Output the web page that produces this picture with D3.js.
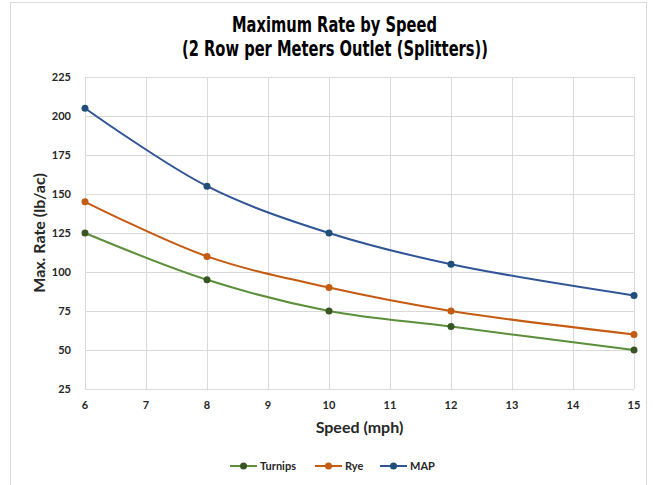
<!DOCTYPE html>
<html>
<head>
<meta charset="utf-8">
<script src="https://cdn.jsdelivr.net/npm/d3@7"></script>
<style>
  body { margin: 0; background: #fff; }
  svg { display: block; }
</style>
</head>
<body>
<svg id="chart" width="653" height="485"></svg>
<script>
// Max rate vs speed, three products
const speeds = [6, 8, 10, 12, 15];
const turnips = [125, 95, 75, 65, 50];
const rye = [145, 110, 90, 75, 60];
const mapRate = [205, 155, 125, 105, 85];
const xTicks = [6, 7, 8, 9, 10, 11, 12, 13, 14, 15];
const yTicks = [25, 50, 75, 100, 125, 150, 175, 200, 225];

const series = [
    { name: "Turnips", values: turnips, line: "#5b8f3a", dot: "#375623" },
    { name: "Rye", values: rye, line: "#C55A11", dot: "#C55A11" },
    { name: "MAP", values: mapRate, line: "#2F5597", dot: "#1f4e79" }
];

const svg = d3.select("#chart");
const plot = { left: 85, right: 634, top: 77, bottom: 389 };
const tickFont = "Lato, 'Open Sans', sans-serif";
const titleFont = "'DejaVu Sans', sans-serif";

// outer frame
svg.append("rect")
    .attr("x", 10.5).attr("y", 2.5)
    .attr("width", 636).attr("height", 490)
    .attr("fill", "none").attr("stroke", "#d9d9d9");

const x = d3.scaleLinear().domain([6, 15]).range([plot.left, plot.right]);
const y = d3.scaleLinear().domain([25, 225]).range([plot.bottom, plot.top]);

// gridlines
svg.append("g").selectAll("line")
    .data(yTicks).enter().append("line")
    .attr("x1", plot.left).attr("x2", plot.right)
    .attr("y1", d => Math.round(y(d)) + 0.5).attr("y2", d => Math.round(y(d)) + 0.5)
    .attr("stroke", "#d9d9d9");
svg.append("g").selectAll("line")
    .data(xTicks).enter().append("line")
    .attr("x1", d => Math.round(x(d)) + 0.5).attr("x2", d => Math.round(x(d)) + 0.5)
    .attr("y1", plot.top).attr("y2", plot.bottom)
    .attr("stroke", "#d9d9d9");

// tick labels
svg.append("g").selectAll("text")
    .data(yTicks).enter().append("text")
    .attr("x", plot.left - 14).attr("y", d => y(d) + 4)
    .attr("text-anchor", "end")
    .attr("font-family", tickFont).attr("font-weight", "bold").attr("font-size", 11)
    .attr("fill", "#262626")
    .text(d => d);
svg.append("g").selectAll("text")
    .data(xTicks).enter().append("text")
    .attr("x", d => x(d)).attr("y", plot.bottom + 20)
    .attr("text-anchor", "middle")
    .attr("font-family", tickFont).attr("font-weight", "bold").attr("font-size", 11)
    .attr("fill", "#262626")
    .text(d => d);

// axis titles
svg.append("text")
    .attr("x", (plot.left + plot.right) / 2).attr("y", 433)
    .attr("text-anchor", "middle")
    .attr("font-family", tickFont).attr("font-weight", "bold").attr("font-size", 16)
    .attr("fill", "#262626")
    .text("Speed (mph)");
svg.append("text")
    .attr("transform", `translate(45,${(plot.top + plot.bottom) / 2}) rotate(-90)`)
    .attr("text-anchor", "middle")
    .attr("font-family", tickFont).attr("font-weight", "bold").attr("font-size", 16)
    .attr("fill", "#262626")
    .text("Max. Rate (lb/ac)");

// title (condensed look via textLength)
const title = svg.append("text")
    .attr("text-anchor", "middle")
    .attr("font-family", titleFont).attr("font-weight", "bold").attr("font-size", 21)
    .attr("fill", "#000");
title.append("tspan").attr("x", 334.5).attr("y", 32)
    .attr("textLength", 205).attr("lengthAdjust", "spacingAndGlyphs")
    .text("Maximum Rate by Speed");
title.append("tspan").attr("x", 335).attr("y", 56)
    .attr("textLength", 306).attr("lengthAdjust", "spacingAndGlyphs")
    .text("(2 Row per Meters Outlet (Splitters))");

// lines + markers
const line = d3.line()
    .x((d, i) => x(speeds[i]))
    .y(d => y(d))
    .curve(d3.curveCatmullRom.alpha(0.5));

series.forEach(s => {
    svg.append("path")
        .attr("d", line(s.values))
        .attr("fill", "none")
        .attr("stroke", s.line)
        .attr("stroke-width", 2);
    svg.append("g").selectAll("circle")
        .data(s.values).enter().append("circle")
        .attr("cx", (d, i) => x(speeds[i]))
        .attr("cy", d => y(d))
        .attr("r", 3.5)
        .attr("fill", s.dot);
});

// legend
const legendX = [230, 315, 380];
const legend = svg.append("g");
series.forEach((s, i) => {
    const g = legend.append("g").attr("transform", `translate(${legendX[i]},466)`);
    g.append("line").attr("x1", 0).attr("x2", 27).attr("y1", 0).attr("y2", 0)
        .attr("stroke", s.line).attr("stroke-width", 2);
    g.append("circle").attr("cx", 13.5).attr("cy", 0).attr("r", 3.5).attr("fill", s.dot);
    g.append("text").attr("x", 30).attr("y", 4)
        .attr("font-family", tickFont).attr("font-weight", "bold").attr("font-size", 11)
        .attr("fill", "#262626")
        .text(s.name);
});
</script>
</body>
</html>
